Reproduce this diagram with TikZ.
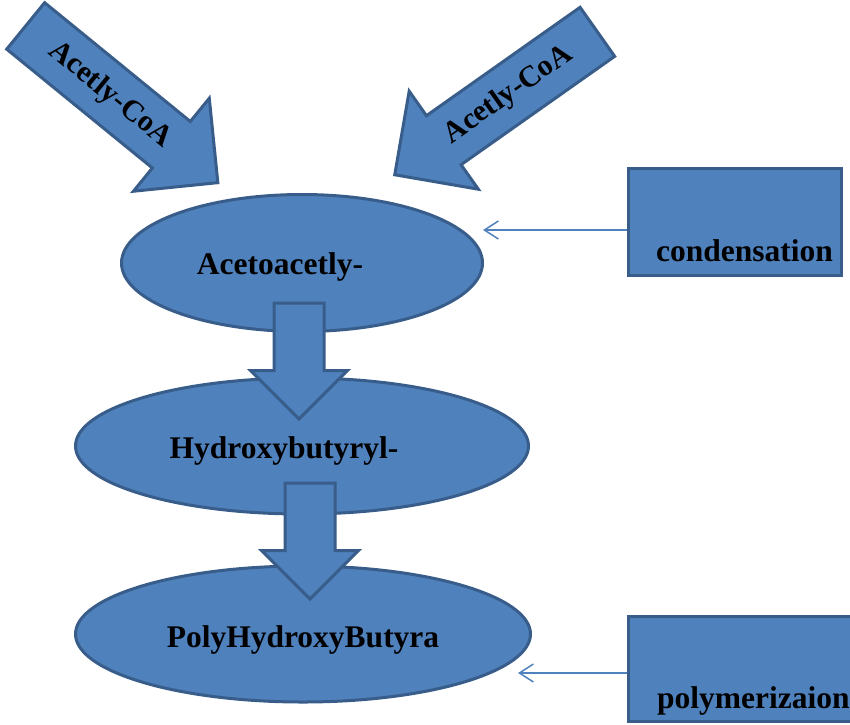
\documentclass[tikz,border=0pt]{standalone}
\usepackage{fontspec}
\setmainfont{Liberation Serif}
\usetikzlibrary{positioning,calc,shapes.geometric,shapes.arrows,arrows.meta}
\definecolor{slideblue}{HTML}{4F81BD}
\definecolor{slideedge}{HTML}{385D8A}

\begin{document}
\begin{tikzpicture}[
	x=1pt, y=-1pt,
	% Elip cho các chất trung gian
	cell/.style={
		ellipse, draw=slideedge, fill=slideblue, line width=3pt,
		inner sep=0pt
	},
	% Chữ đậm đặt trên nền xanh
	celltext/.style={
		draw=none, fill=none, inner sep=0pt,
		font=\fontsize{31.5}{34}\selectfont\bfseries
	},
	% Hộp tên phản ứng bên phải
	stepbox/.style={
		rectangle, draw=slideedge, fill=slideblue, line width=3pt,
		inner sep=0pt
	},
	% Mũi tên khối chéo (Acetly-CoA)
	blockarrow/.style={
		single arrow, draw=slideedge, fill=slideblue, line width=3pt,
		inner xsep=0pt, inner ysep=15pt, text height=21pt, text depth=6pt,
		minimum height=248pt, minimum width=117pt,
		single arrow head extend=30pt,
		font=\fontsize{30}{32}\selectfont\bfseries
	},
	% Mũi tên khối đi xuống giữa các elip
	downarrow/.style={
		single arrow, draw=slideedge, fill=slideblue, line width=3pt,
		inner xsep=0pt, inner ysep=23.5pt, minimum height=116pt,
		minimum width=94pt, single arrow head extend=23.5pt, rotate=-90
	},
	% Mũi tên mảnh từ hộp sang elip
	thinarrow/.style={
		draw=slideblue, line width=1.5pt,
		-{Straight Barb[length=14pt, width=18pt]}
	}
	]
	\useasboundingbox (0,0) rectangle (850,724);
	\clip (0,0) rectangle (850,724);
	
	% Ba elip
	\node[cell, minimum width=361, minimum height=137,
		label={[celltext, anchor=base, xshift=-22pt, yshift=-4pt]center:Acetoacetly-}] (acac) at (302,263) {};
	\node[cell, minimum width=453, minimum height=136,
		label={[celltext, anchor=base, xshift=-18pt, yshift=-5pt]center:Hydroxybutyryl-}] (hbut) at (302,446) {};
	\node[cell, minimum width=455, minimum height=136,
		label={[celltext, anchor=base, yshift=-6pt]center:PolyHydroxyButyra}] (phb) at (303,634) {};
	
	% Mũi tên khối đi xuống
	\node[downarrow, anchor=tail] (down1) at (299,301.5) {};
	\node[downarrow, anchor=tail] (down2) at (310,481.5) {};
	
	% Hai mũi tên Acetly-CoA
	\node[blockarrow, rotate=-39.2, anchor=tip] (coa1) at (219.5,184) {Acetly-CoA};
	\node[blockarrow, shape border rotate=180, rotate=35.2, anchor=tip] (coa2) at (393,176) {Acetly-CoA};
	
	% Hộp bên phải
	\node[stepbox, minimum width=213, minimum height=107,
		label={[celltext, anchor=base west, xshift=-79pt, yshift=15.5pt]south:condensation}] (cond) at (735,222) {};
	\node[stepbox, minimum width=232, minimum height=105,
		label={[celltext, anchor=base west, xshift=-87.5pt, yshift=14.5pt]south:polymerizaion}] (poly) at (744.5,669) {};
	
	% Mũi tên mảnh
	\coordinate (condtip) at (483,230);
	\coordinate (polytip) at (518,673);
	\draw[thinarrow] (condtip -| cond.west) -- (condtip);
	\draw[thinarrow] (polytip -| poly.west) -- (polytip);
	
\end{tikzpicture}
\end{document}
